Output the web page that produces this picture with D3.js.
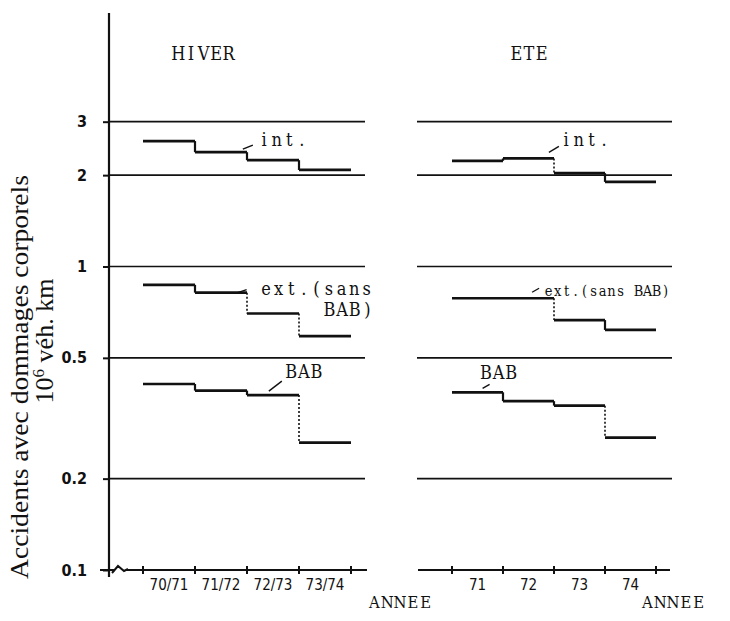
<!DOCTYPE html>
<html>
<head>
<meta charset="utf-8">
<script src="https://cdn.jsdelivr.net/npm/d3@7"></script>
<style>
  body { margin: 0; background: #fff; }
  svg { display: block; }
  .type { font-family: "DejaVu Serif", "Liberation Serif", serif; font-stretch: condensed; font-size: 18px; fill: #111; }
  .tlbl { font-family: "Liberation Sans Narrow", "DejaVu Sans Condensed", "DejaVu Sans", sans-serif; font-size: 15px; fill: #111; }
  .ttl { font-family: "Liberation Serif", "DejaVu Serif", serif; font-size: 26px; fill: #111; }
  .grid { stroke: #111; stroke-width: 1.7; }
  .step { fill: none; stroke: #111; stroke-width: 2.7; }
</style>
</head>
<body>
<script>
// Values (log scale, accidents per 10^6 veh.km)
var yTicks = [0.1, 0.2, 0.5, 1, 2, 3];
var yTickLabels = ["0.1", "0.2", "0.5", "1", "2", "3"];
var gridValues = [0.2, 0.5, 1, 2, 3];

// Winter
var hiverPeriods = ["70/71", "71/72", "72/73", "73/74"];
var hiverInt = [2.59, 2.38, 2.24, 2.08];
var hiverExt = [0.87, 0.82, 0.70, 0.59];
var hiverBab = [0.41, 0.39, 0.377, 0.263];

// Summer
var etePeriods = ["71", "72", "73", "74"];
var eteInt = [2.23, 2.27, 2.03, 1.90];
var eteExt = [0.786, 0.786, 0.666, 0.618];
var eteBab = [0.385, 0.360, 0.348, 0.273];

// Page
var W = 730, H = 621;
var svg = d3.select("body").append("svg")
  .attr("width", W)
  .attr("height", H);

// typewriter style text: one glyph per fixed-width cell
function typeText(sel, str, x, y, adv, anchor, size) {
  var n = str.length;
  var start = anchor == "middle" ? x - n * adv / 2 : anchor == "end" ? x - n * adv : x;
  var t = sel.append("text").attr("class", "type").attr("y", y).attr("text-anchor", "middle");
  if (size) t.style("font-size", size + "px");
  str.split("").forEach(function(ch, i) {
    t.append("tspan").attr("x", start + (i + 0.5) * adv).text(ch);
  });
  return t;
}

// Shared y scale (log)
var y = d3.scaleLog().domain([0.1, 1]).range([570, 266.5]);
var axisX = 109;

// ----- y axis -----
var yAxis = d3.axisLeft(y)
  .tickValues(yTicks)
  .tickFormat(function(d, i) { return yTickLabels[i]; })
  .tickSize(6)
  .tickPadding(16);

var gy = svg.append("g")
  .attr("transform", "translate(" + axisX + ",0)")
  .call(yAxis);
gy.select(".domain").remove();
gy.selectAll(".tick line").attr("stroke", "#111").attr("stroke-width", 2);
gy.selectAll(".tick text")
  .attr("class", "tlbl")
  .style("font-size", "16px")
  .style("font-weight", "bold")
  .attr("font-family", null)
  .attr("font-size", null);

svg.append("line")
  .attr("x1", axisX).attr("x2", axisX)
  .attr("y1", 13).attr("y2", 577)
  .attr("stroke", "#111").attr("stroke-width", 2.2);

// y title
svg.append("text")
  .attr("class", "ttl")
  .attr("transform", "translate(28,377) rotate(-90)")
  .attr("text-anchor", "middle")
  .attr("textLength", 404)
  .attr("lengthAdjust", "spacingAndGlyphs")
  .text("Accidents avec dommages corporels");

var t2 = svg.append("text")
  .attr("class", "ttl")
  .attr("transform", "translate(53,341) rotate(-90)")
  .attr("text-anchor", "middle");
t2.append("tspan").text("10");
t2.append("tspan").attr("dy", -9).style("font-size", "17px").text("6");
t2.append("tspan").attr("dy", 9).text(" véh. km");

// ----- panels -----
var panels = [
  {
    title: "HIVER", titleX: 203.5, cats: hiverPeriods,
    band: [143, 351], axisLine: [100, 367], grid: [109, 365], annee: 368,
    series: [hiverInt, hiverExt, hiverBab],
    labels: [
      {s: 0, cat: 1, fx: 0.92, dy: -3, lx: 10, ly: -4, tx: 5, ty: 1, lines: ["int."]},
      {s: 1, cat: 1, fx: 0.82, dy: 0, lx: 9, ly: -3, tx: 13, ty: 5, lines: ["ext.(sans", "BAB)"]},
      {s: 2, cat: 2, fx: 0.42, dy: -4, lx: 13, ly: -10, tx: 3, ty: -3, lines: ["BAB"]}
    ],
    brk: true
  },
  {
    title: "ETE", titleX: 529, cats: etePeriods,
    band: [452, 656], axisLine: [418, 670], grid: [417, 672], annee: 641,
    series: [eteInt, eteExt, eteBab],
    labels: [
      {s: 0, cat: 1, fx: 0.9, dy: -6, lx: 10, ly: -6, tx: 1, ty: 0, lines: ["int."]},
      {s: 1, cat: 1, fx: 0.57, dy: -6, lx: 7, ly: -4, tx: 5, ty: 8, lines: ["ext.(sans BAB)"], adv: 9, size: 14.5},
      {s: 2, cat: 0, fx: 0.6, dy: -4, lx: 7, ly: -4, tx: -10, ty: -5, lines: ["BAB"]}
    ],
    brk: false
  }
];
var ADV = 12.6;

panels.forEach(function(p) {
  var x = d3.scaleBand().domain(p.cats).range(p.band).padding(0);
  var bw = x.bandwidth();
  var g = svg.append("g");

  // grid lines
  g.selectAll(".grid")
    .data(gridValues)
    .enter().append("line")
    .attr("class", "grid")
    .attr("x1", p.grid[0]).attr("x2", p.grid[1])
    .attr("y1", function(d) { return y(d); })
    .attr("y2", function(d) { return y(d); });

  // x axis line (with break on the left panel)
  var y0 = y(0.1);
  if (p.brk) {
    g.append("path")
      .attr("d", "M" + p.axisLine[0] + "," + y0 + "H114 M112," + (y0 + 3) + "L118," + (y0 - 4) +
        "L124," + (y0 + 1) + "L128," + (y0 - 1) + "M127," + y0 + "H" + p.axisLine[1])
      .attr("fill", "none").attr("stroke", "#111").attr("stroke-width", 2);
  } else {
    g.append("line")
      .attr("x1", p.axisLine[0]).attr("x2", p.axisLine[1])
      .attr("y1", y0).attr("y2", y0)
      .attr("stroke", "#111").attr("stroke-width", 2.2);
  }

  // ticks at band edges
  var edges = p.cats.map(function(c) { return x(c); }).concat([x(p.cats[p.cats.length - 1]) + bw]);
  g.selectAll(".xt")
    .data(edges)
    .enter().append("line")
    .attr("x1", function(d) { return d; }).attr("x2", function(d) { return d; })
    .attr("y1", y0 - 4).attr("y2", y0 + 4)
    .attr("stroke", "#111").attr("stroke-width", 2);

  // category labels
  var xAxis = d3.axisBottom(x).tickSize(0).tickPadding(9);
  var gx = g.append("g").attr("transform", "translate(0," + y0 + ")").call(xAxis);
  gx.select(".domain").remove();
  gx.selectAll(".tick text")
    .attr("class", "tlbl")
    .attr("font-family", null)
    .attr("font-size", null);

  // step series
  p.series.forEach(function(vals) {
    g.selectAll(null)
      .data(vals)
      .enter().append("line")
      .attr("class", "step")
      .attr("x1", function(d, i) { return x(p.cats[i]); })
      .attr("x2", function(d, i) { return x(p.cats[i]) + bw; })
      .attr("y1", function(d) { return y(d); })
      .attr("y2", function(d) { return y(d); });

    var joins = vals.slice(1).map(function(v, i) { return {a: vals[i], b: v, c: p.cats[i + 1]}; });
    g.selectAll(null)
      .data(joins)
      .enter().append("line")
      .attr("x1", function(d) { return x(d.c); })
      .attr("x2", function(d) { return x(d.c); })
      .attr("y1", function(d) { return y(d.a); })
      .attr("y2", function(d) { return y(d.b); })
      .attr("stroke", "#111")
      .attr("stroke-width", function(d) { return Math.abs(y(d.a) - y(d.b)) > 12 ? 1.6 : 2.2; })
      .attr("stroke-dasharray", function(d) { return Math.abs(y(d.a) - y(d.b)) > 12 ? "2,2" : null; });
  });

  // series labels with leader strokes
  p.labels.forEach(function(l) {
    var vals = p.series[l.s];
    var sx = x(p.cats[l.cat]) + l.fx * bw;
    var sy = y(vals[l.cat]) + l.dy;
    var ex = sx + l.lx, ey = sy + l.ly;
    g.append("line")
      .attr("x1", sx).attr("y1", sy).attr("x2", ex).attr("y2", ey)
      .attr("stroke", "#111").attr("stroke-width", 1.4);
    var tx = ex + l.tx, ty = ey + l.ty;
    typeText(g, l.lines[0], tx, ty, l.adv || ADV, "start", l.size);
    if (l.lines.length > 1) {
      typeText(g, l.lines[1], tx + 114, ty + 21, ADV, "end");
    }
  });

  // panel title and axis name
  typeText(g, p.title, p.titleX, 60, ADV, "middle");
  typeText(g, "ANNEE", p.annee, 608, 12.8, "start", 16.5);
});
</script>
</body>
</html>
